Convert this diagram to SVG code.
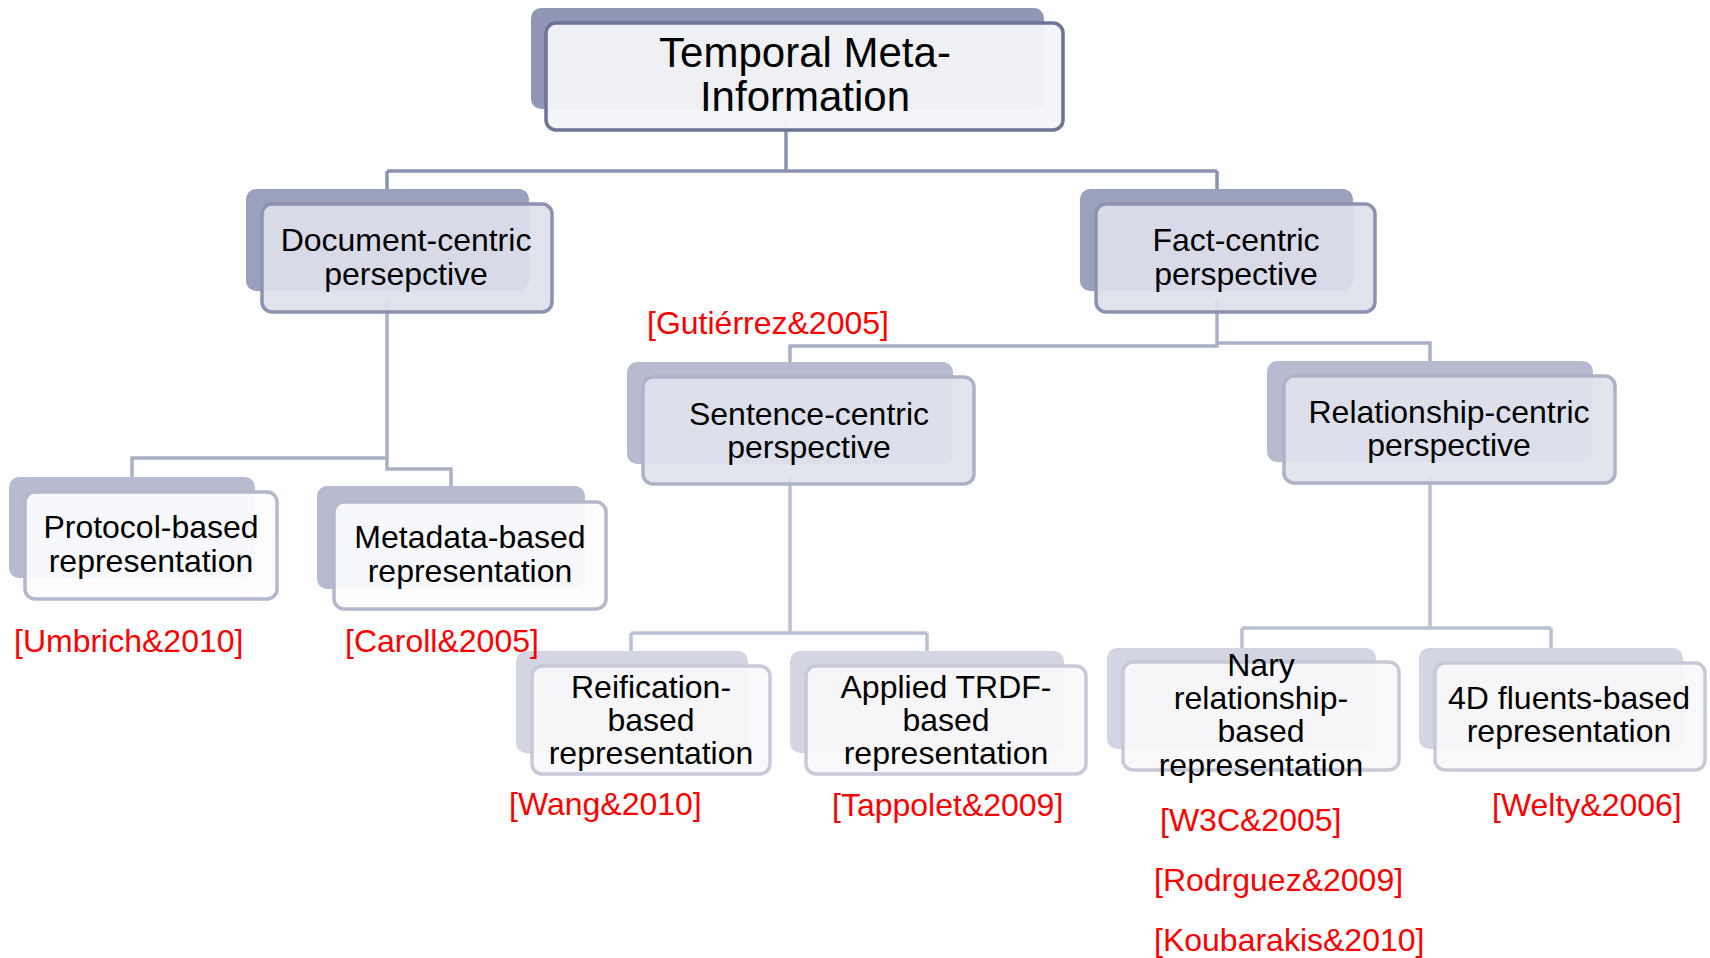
<svg xmlns="http://www.w3.org/2000/svg" width="1710" height="958" viewBox="0 0 1710 958">
<style>
text{font-family:"Liberation Sans",Arial,sans-serif;text-anchor:middle;fill:#000}
.t1{font-size:42px}
.t{font-size:32px}
.ref{font-size:32px;fill:#ff0000;text-anchor:start}
.c{fill:none;stroke-width:3.5}
.c1{stroke:#8a92b1}
.c2{stroke:#aab0c6}
.c3{stroke:#babfd1}
.b1{fill:#8f97b5}
.f1{fill:#f3f4f8;fill-opacity:0.95;stroke:#6c7396;stroke-width:3.5}
.b2{fill:#9aa1bd}
.f2{fill:#dde0ea;fill-opacity:0.92;stroke:#8c93b0;stroke-width:3.5}
.b3{fill:#b6bbd0}
.f3{fill:#e1e3ec;fill-opacity:0.92;stroke:#adb2c8;stroke-width:3.5}
.f3w{fill:#fdfdfe;fill-opacity:0.92;stroke:#b3b8cc;stroke-width:3.5}
.b4{fill:#d3d6e2}
.f4{fill:#f9f9fb;fill-opacity:0.92;stroke:#c6cad8;stroke-width:3.5}
</style>
<g id="connectors">
<path class="c c1" d="M786,120 V171 M387,171 H1217 M387,171 V204 M1217,171 V204"/>
<path class="c c2" d="M387,300 V469 H451 V500 M387,458 H132 V492"/>
<path class="c c2" d="M1217,300 V346 H790 V377 M1217,343 H1430 V376"/>
<path class="c c3" d="M790,475 V633 M631,633 H927 M631,633 V666 M927,633 V666"/>
<path class="c c3" d="M1430,475 V628 M1242,628 H1551 M1242,628 V662 M1551,628 V663"/>
</g>
<g id="node-temporal">
<rect class="b1" x="531" y="8" width="513" height="101" rx="10"/>
<rect class="f1" x="546" y="23" width="517" height="107" rx="10"/>
<text class="t1" x="805" y="67">Temporal Meta-</text>
<text class="t1" x="805" y="111">Information</text>
</g>
<g id="node-document">
<rect class="b2" x="246" y="189" width="283" height="102" rx="10"/>
<rect class="f2" x="262" y="204" width="290" height="108" rx="10"/>
<text class="t" x="406" y="251">Document-centric</text>
<text class="t" x="406" y="285">persepctive</text>
</g>
<g id="node-fact">
<rect class="b2" x="1080" y="189" width="273" height="102" rx="10"/>
<rect class="f2" x="1096" y="204" width="279" height="108" rx="10"/>
<text class="t" x="1236" y="251">Fact-centric</text>
<text class="t" x="1236" y="285">perspective</text>
</g>
<g id="node-protocol">
<rect class="b3" x="9" y="477" width="246" height="101" rx="10"/>
<rect class="f3w" x="25" y="492" width="252" height="107" rx="10"/>
<text class="t" x="151" y="538">Protocol-based</text>
<text class="t" x="151" y="572">representation</text>
</g>
<g id="node-metadata">
<rect class="b3" x="317" y="486" width="268" height="103" rx="10"/>
<rect class="f3w" x="334" y="502" width="272" height="107" rx="10"/>
<text class="t" x="470" y="548">Metadata-based</text>
<text class="t" x="470" y="582">representation</text>
</g>
<g id="node-sentence">
<rect class="b3" x="627" y="362" width="326" height="102" rx="10"/>
<rect class="f3" x="643" y="377" width="331" height="107" rx="10"/>
<text class="t" x="809" y="425">Sentence-centric</text>
<text class="t" x="809" y="458">perspective</text>
</g>
<g id="node-relationship">
<rect class="b3" x="1267" y="361" width="326" height="101" rx="10"/>
<rect class="f3" x="1284" y="376" width="331" height="107" rx="10"/>
<text class="t" x="1449" y="423">Relationship-centric</text>
<text class="t" x="1449" y="456">perspective</text>
</g>
<g id="node-reification">
<rect class="b4" x="516" y="651" width="232" height="102" rx="10"/>
<rect class="f4" x="532" y="666" width="238" height="108" rx="10"/>
<text class="t" x="651" y="698">Reification-</text>
<text class="t" x="651" y="731">based</text>
<text class="t" x="651" y="764">representation</text>
</g>
<g id="node-trdf">
<rect class="b4" x="790" y="651" width="274" height="102" rx="10"/>
<rect class="f4" x="806" y="666" width="280" height="108" rx="10"/>
<text class="t" x="946" y="698">Applied TRDF-</text>
<text class="t" x="946" y="731">based</text>
<text class="t" x="946" y="764">representation</text>
</g>
<g id="node-nary">
<rect class="b4" x="1107" y="648" width="269" height="101" rx="10"/>
<rect class="f4" x="1123" y="662" width="276" height="108" rx="10"/>
<text class="t" x="1261" y="676">Nary</text>
<text class="t" x="1261" y="709">relationship-</text>
<text class="t" x="1261" y="742">based</text>
<text class="t" x="1261" y="776">representation</text>
</g>
<g id="node-4d">
<rect class="b4" x="1419" y="648" width="264" height="101" rx="10"/>
<rect class="f4" x="1435" y="663" width="270" height="107" rx="10"/>
<text class="t" x="1569" y="709">4D fluents-based</text>
<text class="t" x="1569" y="742">representation</text>
</g>
<g id="references">
<text class="ref" x="647" y="334">[Gutiérrez&amp;2005]</text>
<text class="ref" x="14" y="652">[Umbrich&amp;2010]</text>
<text class="ref" x="345" y="652">[Caroll&amp;2005]</text>
<text class="ref" x="509" y="815">[Wang&amp;2010]</text>
<text class="ref" x="832" y="816">[Tappolet&amp;2009]</text>
<text class="ref" x="1160" y="831">[W3C&amp;2005]</text>
<text class="ref" x="1154" y="891">[Rodrguez&amp;2009]</text>
<text class="ref" x="1154" y="951">[Koubarakis&amp;2010]</text>
<text class="ref" x="1492" y="816">[Welty&amp;2006]</text>
</g>
</svg>
